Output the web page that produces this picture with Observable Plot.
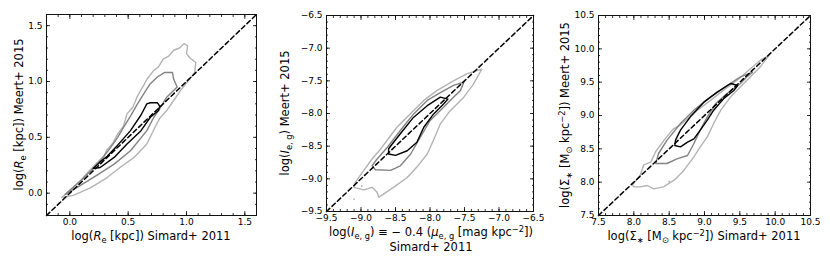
<!DOCTYPE html>
<html><head><meta charset="utf-8">
<script src="https://cdn.jsdelivr.net/npm/d3@7"></script>
<script src="https://cdn.jsdelivr.net/npm/@observablehq/plot@0.6"></script>
<style>
body{margin:0;background:#fff;}
#wrap{position:relative;width:830px;height:277px;overflow:hidden;background:#fff;}
#wrap > svg{position:absolute;top:0;}
</style></head><body><div id="wrap"></div>
<script>
// ---------- data ----------
const p1Domain = [-0.2, 1.6];
const p2Domain = [-9.5, -6.5];
const p3Domain = [7.5, 10.5];
const p1Major = [0.0, 0.5, 1.0, 1.5];
const p2Major = [-9.5, -9.0, -8.5, -8.0, -7.5, -7.0, -6.5];
const p3Major = [7.5, 8.0, 8.5, 9.0, 9.5, 10.0, 10.5];

// contour levels: outer (light grey), middle (grey), inner (black)
const p1Outer = [[-0.07,-0.04],[0.03,0.05],[0.10,0.12],[0.15,0.18],[0.23,0.27],[0.29,0.33],[0.32,0.39],[0.37,0.45],[0.41,0.53],[0.46,0.60],[0.49,0.71],[0.54,0.77],[0.58,0.87],[0.63,0.96],[0.66,1.02],[0.72,1.10],[0.76,1.13],[0.80,1.20],[0.85,1.23],[0.89,1.28],[0.94,1.30],[0.98,1.34],[1.01,1.32],[1.00,1.25],[1.03,1.21],[1.08,1.17],[1.07,1.08],[1.01,1.00],[0.95,0.92],[0.89,0.83],[0.83,0.74],[0.77,0.67],[0.73,0.59],[0.66,0.44],[0.55,0.32],[0.43,0.23],[0.32,0.14],[0.18,0.05],[0.03,-0.02],[-0.07,-0.04]];
const p1Mid = [[-0.04,-0.01],[0.08,0.10],[0.18,0.20],[0.27,0.30],[0.35,0.41],[0.41,0.50],[0.46,0.59],[0.52,0.69],[0.58,0.80],[0.64,0.90],[0.69,0.98],[0.75,1.04],[0.81,1.08],[0.88,1.08],[0.89,1.02],[0.92,0.95],[0.83,0.86],[0.76,0.74],[0.72,0.68],[0.66,0.56],[0.52,0.38],[0.38,0.26],[0.23,0.16],[0.06,0.05],[-0.04,-0.01]];
const p1Inner = [[0.20,0.22],[0.26,0.28],[0.32,0.33],[0.41,0.43],[0.52,0.56],[0.61,0.70],[0.66,0.80],[0.69,0.81],[0.75,0.81],[0.77,0.78],[0.76,0.74],[0.69,0.68],[0.61,0.56],[0.49,0.44],[0.38,0.32],[0.26,0.23],[0.20,0.22]];

const p2Outer = [[-7.25,-7.32],[-7.37,-7.55],[-7.51,-7.75],[-7.71,-7.96],[-7.85,-8.16],[-7.95,-8.41],[-8.04,-8.62],[-8.19,-8.82],[-8.33,-8.98],[-8.53,-9.13],[-8.67,-9.23],[-8.74,-9.28],[-8.77,-9.20],[-8.84,-9.13],[-8.96,-9.17],[-9.10,-9.13],[-9.08,-9.05],[-8.96,-8.87],[-8.82,-8.67],[-8.72,-8.55],[-8.62,-8.41],[-8.48,-8.21],[-8.28,-8.00],[-8.09,-7.80],[-7.90,-7.65],[-7.66,-7.50],[-7.46,-7.39],[-7.25,-7.32]];
const p2Mid = [[-7.51,-7.52],[-7.56,-7.65],[-7.66,-7.75],[-7.80,-7.90],[-8.00,-8.11],[-8.14,-8.36],[-8.28,-8.62],[-8.43,-8.80],[-8.57,-8.87],[-8.79,-8.86],[-8.84,-8.80],[-8.77,-8.70],[-8.62,-8.52],[-8.43,-8.26],[-8.24,-8.01],[-8.04,-7.80],[-7.85,-7.68],[-7.66,-7.57],[-7.51,-7.52]];
const p2Inner = [[-8.60,-8.54],[-8.60,-8.62],[-8.50,-8.64],[-8.33,-8.57],[-8.19,-8.44],[-8.09,-8.21],[-7.95,-8.01],[-7.80,-7.85],[-7.74,-7.78],[-7.85,-7.75],[-8.04,-7.88],[-8.24,-8.06],[-8.43,-8.31],[-8.55,-8.47],[-8.60,-8.54]];
const p2Dots = [[-8.99,-9.11],[-9.10,-9.31]];

const p3Outer = [[9.91,9.90],[9.79,9.73],[9.65,9.58],[9.51,9.43],[9.37,9.28],[9.23,9.08],[9.13,8.88],[9.04,8.68],[8.94,8.53],[8.85,8.38],[8.71,8.18],[8.57,8.03],[8.42,7.93],[8.28,7.90],[8.19,7.95],[8.09,7.93],[8.00,7.93],[7.98,7.96],[8.09,8.10],[8.14,8.26],[8.24,8.30],[8.31,8.46],[8.45,8.66],[8.56,8.80],[8.66,8.86],[8.76,8.95],[8.90,9.08],[9.09,9.23],[9.27,9.38],[9.46,9.53],[9.65,9.70],[9.79,9.83],[9.91,9.90]];
const p3Mid = [[8.31,8.28],[8.47,8.28],[8.61,8.35],[8.76,8.40],[8.85,8.58],[8.94,8.78],[9.04,8.98],[9.16,9.18],[9.32,9.33],[9.51,9.48],[9.60,9.58],[9.68,9.65],[9.51,9.58],[9.32,9.45],[9.09,9.28],[8.85,9.08],[8.66,8.88],[8.47,8.63],[8.35,8.43],[8.31,8.28]];
const p3Inner = [[8.58,8.55],[8.66,8.53],[8.76,8.60],[8.85,8.65],[8.94,8.78],[9.04,8.93],[9.13,9.08],[9.27,9.25],[9.42,9.38],[9.47,9.45],[9.37,9.48],[9.18,9.35],[8.99,9.20],[8.80,8.98],[8.66,8.78],[8.59,8.63],[8.58,8.55]];
const p3Dots = [[8.50,8.01]];

const levelColors = ["#b3b3b3", "#838383", "#000000"];

// ---------- drawing ----------
const wrap = d3.select("#wrap");
const fmt = d3.format(".1f");

function minorTicks(domain) {
  const out = [];
  for (let v = Math.round(domain[0]*10); v <= Math.round(domain[1]*10); v++) out.push(v/10);
  return out;
}

function panel({left, width, margin, domain, major, contours, dots}) {
  const minor = minorTicks(domain);
  const blank = () => "";
  const common = {label: null, strokeWidth: 0.8};
  const plot = Plot.plot({
    width, height: 277,
    marginLeft: margin[0], marginRight: margin[1], marginTop: margin[2], marginBottom: margin[3],
    x: {domain}, y: {domain},
    style: {fontFamily: "DejaVu Sans", fontSize: "9px", color: "black", background: "transparent", overflow: "visible"},
    marks: [
      ...contours.map((pts, i) => Plot.line(pts, {stroke: levelColors[i], strokeWidth: 1.4})),
      Plot.dot(dots || [], {r: 0.9, fill: levelColors[0], stroke: null}),
      Plot.line(domain.map(d => [d, d]), {stroke: "black", strokeWidth: 1.5, strokeDasharray: "4.5,3"}),
      Plot.axisX({...common, anchor: "bottom", ticks: major, tickSize: 0, tickPadding: 3, tickFormat: fmt}),
      Plot.axisY({...common, anchor: "left", ticks: major, tickSize: 0, tickPadding: 4, tickFormat: fmt}),
      Plot.axisX({...common, anchor: "bottom", ticks: major, tickSize: -4, tickFormat: blank}),
      Plot.axisX({...common, anchor: "top", ticks: major, tickSize: -4, tickFormat: blank}),
      Plot.axisY({...common, anchor: "left", ticks: major, tickSize: -4, tickFormat: blank}),
      Plot.axisY({...common, anchor: "right", ticks: major, tickSize: -4, tickFormat: blank}),
      Plot.axisX({...common, anchor: "bottom", ticks: minor, tickSize: -2, tickFormat: blank}),
      Plot.axisX({...common, anchor: "top", ticks: minor, tickSize: -2, tickFormat: blank}),
      Plot.axisY({...common, anchor: "left", ticks: minor, tickSize: -2, tickFormat: blank}),
      Plot.axisY({...common, anchor: "right", ticks: minor, tickSize: -2, tickFormat: blank}),
      Plot.frame({stroke: "#111", strokeWidth: 1})
    ]
  });
  plot.style.left = left + "px";
  wrap.node().appendChild(plot);
}

panel({left: 0, width: 280, margin: [46, 24, 14, 62], domain: p1Domain, major: p1Major,
       contours: [p1Outer, p1Mid, p1Inner]});
panel({left: 280, width: 275, margin: [46, 22, 15, 66], domain: p2Domain, major: p2Major,
       contours: [p2Outer, p2Mid, p2Inner], dots: p2Dots});
panel({left: 555, width: 275, margin: [43, 20, 15, 62], domain: p3Domain, major: p3Major,
       contours: [p3Outer, p3Mid, p3Inner], dots: p3Dots});

// ---------- axis titles (rich text) ----------
const ov = wrap.append("svg").attr("width", 830).attr("height", 277)
  .style("left", "0px").style("pointer-events", "none")
  .attr("font-family", "DejaVu Sans").attr("fill", "black");

function rich(x, y, parts, rotate, size) {
  const t = ov.append("text").attr("font-size", size).attr("text-anchor", "middle")
    .attr("transform", `translate(${x},${y}) rotate(${rotate || 0})`);
  let cur = 0;
  for (const [s, k] of parts) {
    const target = k === "sub" ? 0.22 * size : k === "sup" ? -0.38 * size : 0;
    const ts = t.append("tspan").text(s).attr("dy", target - cur);
    cur = target;
    if (k === "i") ts.attr("font-style", "italic");
    if (k === "sub" || k === "sup") ts.attr("font-size", size * 0.72);
  }
}

const FS = 11.5;
rich(151, 240, [["log("], ["R", "i"], ["e", "sub"], [" [kpc]) Simard+ 2011"]], 0, FS);
rich(23, 114.5, [["log("], ["R", "i"], ["e", "sub"], [" [kpc]) Meert+ 2015"]], -90, FS);

rich(431, 236, [["log("], ["I", "i"], ["e, g", "sub"], [") ≡ − 0.4 ("], ["μ", "i"], ["e, g", "sub"], [" [mag kpc"], ["−2", "sup"], ["])"]], 0, FS);
rich(431, 251, [["Simard+ 2011"]], 0, FS);
rich(289, 113, [["log("], ["I", "i"], ["e, g", "sub"], [") Meert+ 2015"]], -90, FS);

rich(704, 240, [["log(Σ"], ["∗", "sub"], [" [M"], ["⊙", "sub"], [" kpc"], ["−2", "sup"], ["]) Simard+ 2011"]], 0, FS);
rich(569, 115, [["log(Σ"], ["∗", "sub"], [" [M"], ["⊙", "sub"], [" kpc"], ["−2", "sup"], ["]) Meert+ 2015"]], -90, FS);
</script></body></html>
